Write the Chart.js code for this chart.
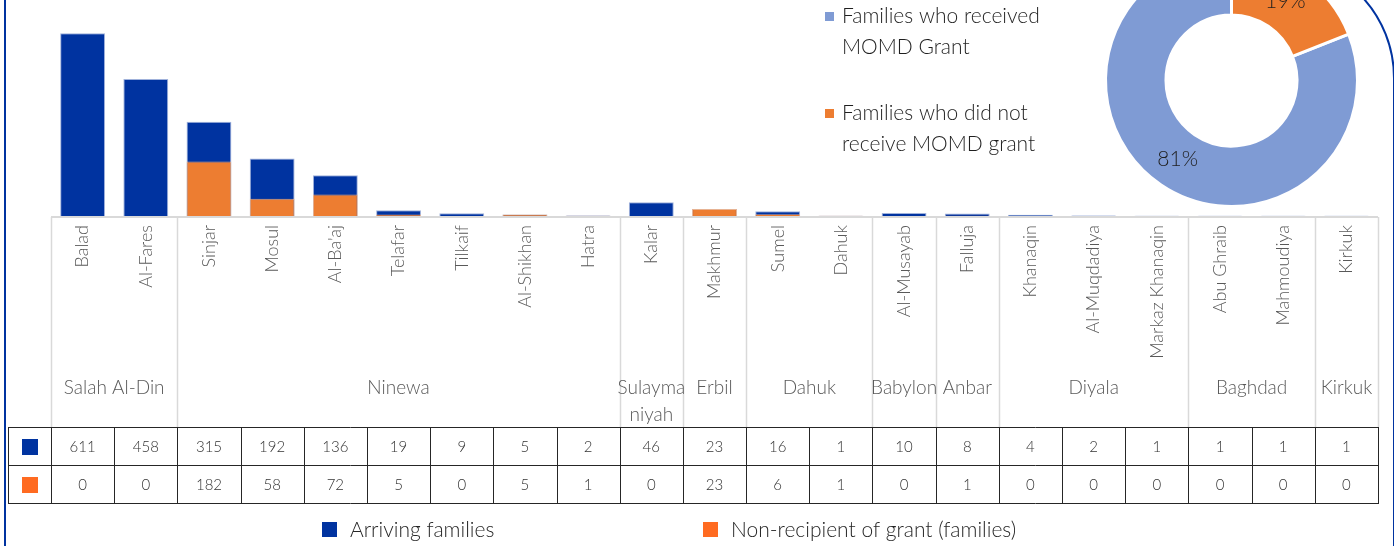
<!DOCTYPE html>
<html>
<head>
<meta charset="utf-8">
<script src="https://cdn.jsdelivr.net/npm/chart.js@4.4.1/dist/chart.umd.min.js"></script>
<style>
  html, body { margin: 0; padding: 0; background: #fff; }
  body { width: 1394px; height: 546px; position: relative; overflow: hidden; font-family: Lato, "Open Sans", sans-serif; }
  #frame { position: absolute; left: 4px; top: -42px; width: 1391px; height: 700px; box-sizing: border-box;
           border: 2px solid #0033A0; border-radius: 0 120px 0 0; }
  #bars { position: absolute; left: 0; top: 0; }
  #donut { position: absolute; left: 800px; top: -50px; }
</style>
</head>
<body>
<div id="frame"></div>
<canvas id="bars" width="1394" height="546"></canvas>
<canvas id="donut" width="594" height="262"></canvas>
<script>
// --- Daten ---------------------------------------------------------------
const districts = ['Balad', 'Al-Fares', 'Sinjar', 'Mosul', "Al-Ba'aj", 'Telafar', 'Tilkaif', 'Al-Shikhan', 'Hatra',
  'Kalar', 'Makhmur', 'Sumel', 'Dahuk', 'Al-Musayab', 'Falluja', 'Khanaqin', 'Al-Muqdadiya', 'Markaz Khanaqin',
  'Abu Ghraib', 'Mahmoudiya', 'Kirkuk'];
const governorates = [['Salah Al-Din'], ['Ninewa'], ['Sulayma', 'niyah'], ['Erbil'], ['Dahuk'], ['Babylon'],
  ['Anbar'], ['Diyala'], ['Baghdad'], ['Kirkuk']];
const governorateSizes = [2, 7, 1, 1, 2, 1, 1, 3, 2, 1];
const arriving = [611, 458, 315, 192, 136, 19, 9, 5, 2, 46, 23, 16, 1, 10, 8, 4, 2, 1, 1, 1, 1];
const nonRecipient = [0, 0, 182, 58, 72, 5, 0, 5, 1, 0, 23, 6, 1, 0, 1, 0, 0, 0, 0, 0, 0];
const seriesNames = ['Arriving families', 'Non-recipient of grant (families)'];

const grantLabels = ['Families who received MOMD Grant', 'Families who did not receive MOMD grant'];
const grantLegendLines = [['Families who received', 'MOMD Grant'], ['Families who did not', 'receive MOMD grant']];
const grantShares = [81, 19];

// --- Farben --------------------------------------------------------------
const BLUE = '#0033A0';
const ORANGE = '#ED7D31';
const ORANGE_KEY = '#FF6B21';
const GRID = '#D9D9D9';
const LINE = '#262626';
const TEXT = '#595959';
const FONT = '300 {s}px Lato, "Open Sans", sans-serif';
const font = (s) => FONT.replace('{s}', s);

const TABLE_TOP = 427;
const ROW_H = 38;
const TABLE_LEFT = 8;

// Achsenbeschriftung, Gruppen, Datentabelle und Legende unter dem Diagramm.
const tablePlugin = {
  id: 'dataTable',
  afterDraw(chart) {
    const { ctx, chartArea } = chart;
    const x = chart.scales.x;
    const step = chartArea.width / districts.length;
    const edge = (i) => x.getPixelForValue(i) - step / 2;
    const left = edge(0);
    const right = edge(districts.length);
    const base = chartArea.bottom;

    ctx.save();
    // Achsenlinie
    ctx.strokeStyle = GRID;
    ctx.lineWidth = 2;
    ctx.beginPath();
    ctx.moveTo(left, base + 1);
    ctx.lineTo(right, base + 1);
    ctx.stroke();

    // Gruppengrenzen
    ctx.lineWidth = 1.5;
    let acc = 0;
    const bounds = [0];
    governorateSizes.forEach((n) => { acc += n; bounds.push(acc); });
    bounds.forEach((b) => {
      const px = Math.round(edge(b)) + 0.5;
      ctx.beginPath();
      ctx.moveTo(px, base + 1);
      ctx.lineTo(px, TABLE_TOP);
      ctx.stroke();
    });

    // Gedrehte Bezirksnamen
    ctx.fillStyle = TEXT;
    ctx.font = font(18);
    ctx.textAlign = 'right';
    ctx.textBaseline = 'middle';
    districts.forEach((name, i) => {
      ctx.save();
      ctx.translate(x.getPixelForValue(i), 225);
      ctx.rotate(-Math.PI / 2);
      ctx.fillText(name, 0, 0);
      ctx.restore();
    });

    // Gouvernements
    ctx.textAlign = 'center';
    ctx.font = font(19);
    governorates.forEach((lines, g) => {
      const cx = (edge(bounds[g]) + edge(bounds[g + 1])) / 2;
      lines.forEach((ln, k) => ctx.fillText(ln, cx, 388 + k * 27));
    });

    // Tabelle
    ctx.strokeStyle = LINE;
    ctx.lineWidth = 1;
    for (let r = 0; r <= 2; r++) {
      const py = TABLE_TOP + r * ROW_H + 0.5;
      ctx.beginPath();
      ctx.moveTo(TABLE_LEFT, py);
      ctx.lineTo(right, py);
      ctx.stroke();
    }
    const vlines = [TABLE_LEFT];
    for (let i = 0; i <= districts.length; i++) vlines.push(edge(i));
    vlines.forEach((vx) => {
      const px = Math.round(vx) + 0.5;
      ctx.beginPath();
      ctx.moveTo(px, TABLE_TOP);
      ctx.lineTo(px, TABLE_TOP + 2 * ROW_H + 1);
      ctx.stroke();
    });

    const rows = [arriving, nonRecipient];
    const keys = [BLUE, ORANGE_KEY];
    ctx.font = font(15);
    rows.forEach((vals, r) => {
      const cy = TABLE_TOP + r * ROW_H + ROW_H / 2 + 1;
      ctx.fillStyle = keys[r];
      ctx.fillRect(22, cy - 8, 16, 16);
      ctx.fillStyle = '#333333';
      vals.forEach((v, i) => ctx.fillText(String(v), x.getPixelForValue(i), cy));
    });

    // Legende
    ctx.font = font(21);
    ctx.textAlign = 'left';
    const legendX = [322, 703];
    seriesNames.forEach((name, k) => {
      ctx.fillStyle = keys[k];
      ctx.fillRect(legendX[k], 522, 15, 15);
      ctx.fillStyle = '#262626';
      ctx.fillText(name, legendX[k] + 28, 530);
    });
    ctx.restore();
  },
};

new Chart(document.getElementById('bars'), {
  type: 'bar',
  data: {
    labels: districts,
    datasets: [
      {
        label: seriesNames[0],
        data: arriving,
        backgroundColor: BLUE,
        borderColor: 'rgba(150,170,215,0.9)',
        borderWidth: 1,
        order: 2,
      },
      {
        label: seriesNames[1],
        data: nonRecipient,
        backgroundColor: ORANGE,
        borderColor: 'rgba(240,180,140,0.9)',
        borderWidth: 1,
        order: 1,
      },
    ],
  },
  options: {
    responsive: false,
    animation: false,
    layout: { padding: { left: 51, right: 16, top: 0, bottom: 330 } },
    datasets: { bar: { grouped: false, categoryPercentage: 1, barPercentage: 0.71 } },
    plugins: { legend: { display: false }, tooltip: { enabled: false } },
    scales: {
      x: { display: false },
      y: { display: false, min: 0, max: 722 },
    },
  },
  plugins: [tablePlugin],
});

// Ringdiagramm: Prozentwerte in den Segmenten und zweizeilige Legende links.
const GRANT_COLORS = ['#7F9BD4', ORANGE];
const donutPlugin = {
  id: 'donutText',
  afterDraw(chart) {
    const { ctx } = chart;
    const meta = chart.getDatasetMeta(0);
    ctx.save();
    ctx.font = font(21);
    ctx.fillStyle = '#1f1f1f';
    ctx.textAlign = 'center';
    ctx.textBaseline = 'middle';
    meta.data.forEach((arc, i) => {
      const p = arc.getCenterPoint();
      ctx.fillText(grantShares[i] + '%', p.x, p.y);
    });

    ctx.textAlign = 'left';
    const top = [66, 163];
    grantLegendLines.forEach((lines, k) => {
      ctx.fillStyle = GRANT_COLORS[k];
      ctx.fillRect(25, top[k] - 4, 9, 9);
      ctx.fillStyle = '#1f1f1f';
      lines.forEach((ln, j) => ctx.fillText(ln, 42, top[k] + j * 31));
    });
    ctx.restore();
  },
};

new Chart(document.getElementById('donut'), {
  type: 'doughnut',
  data: {
    labels: grantLabels,
    datasets: [{
      data: grantShares,
      backgroundColor: GRANT_COLORS,
      borderColor: '#ffffff',
      borderWidth: 3,
    }],
  },
  options: {
    responsive: false,
    animation: false,
    rotation: 68.4,
    cutout: '52%',
    layout: { padding: { left: 304, right: 35, top: 3, bottom: 4 } },
    plugins: { legend: { display: false }, tooltip: { enabled: false } },
  },
  plugins: [donutPlugin],
});
</script>
</body>
</html>
